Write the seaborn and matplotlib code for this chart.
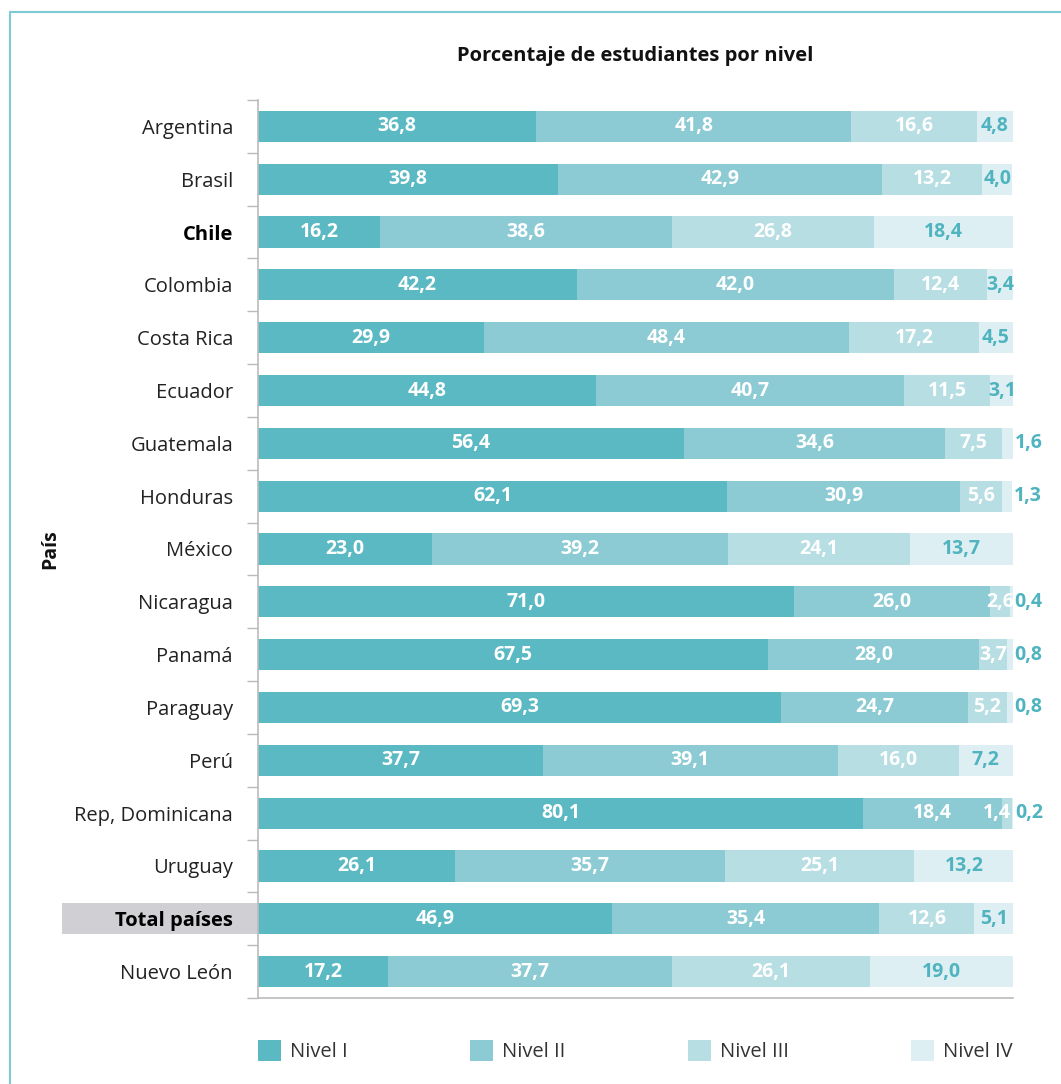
import matplotlib
matplotlib.use("Agg")
import matplotlib.pyplot as plt
from matplotlib.patches import Rectangle
from matplotlib.lines import Line2D
import seaborn as sns
import pandas as pd
import numpy as np

paises = ["Argentina", "Brasil", "Chile", "Colombia", "Costa Rica", "Ecuador",
          "Guatemala", "Honduras", "México", "Nicaragua", "Panamá", "Paraguay",
          "Perú", "Rep, Dominicana", "Uruguay", "Total países", "Nuevo León"]
nivel_1 = [36.8, 39.8, 16.2, 42.2, 29.9, 44.8, 56.4, 62.1, 23.0, 71.0, 67.5, 69.3, 37.7, 80.1, 26.1, 46.9, 17.2]
nivel_2 = [41.8, 42.9, 38.6, 42.0, 48.4, 40.7, 34.6, 30.9, 39.2, 26.0, 28.0, 24.7, 39.1, 18.4, 35.7, 35.4, 37.7]
nivel_3 = [16.6, 13.2, 26.8, 12.4, 17.2, 11.5, 7.5, 5.6, 24.1, 2.6, 3.7, 5.2, 16.0, 1.4, 25.1, 12.6, 26.1]
nivel_4 = [4.8, 4.0, 18.4, 3.4, 4.5, 3.1, 1.6, 1.3, 13.7, 0.4, 0.8, 0.8, 7.2, 0.2, 13.2, 5.1, 19.0]
niveles = ["Nivel I", "Nivel II", "Nivel III", "Nivel IV"]
colores = ["#5BB9C3", "#8CCBD4", "#B7DEE3", "#DDEFF2"]
destacados = ["Chile", "Total países"]

sns.set_theme(style="white")
plt.rcParams["font.family"] = ["Open Sans", "DejaVu Sans"]

W, H = 1061, 1084
fig = plt.figure(figsize=(W / 100, H / 100), dpi=100)
ax = fig.add_axes([258 / W, 1 - 998 / H, (1013 - 258) / W, (998 - 100) / H])

series = [nivel_1, nivel_2, nivel_3, nivel_4]
df = pd.DataFrame({"pais": paises})
acum = np.zeros(len(paises))
bordes = []
for nombre, valores in zip(niveles, series):
    inicio = acum.copy()
    acum = acum + np.array(valores)
    bordes.append((inicio, acum.copy()))
    df[nombre] = acum.copy()

# Stacked bars: draw cumulative totals from the widest down
bar_h = 0.59
for nombre, color in reversed(list(zip(niveles, colores))):
    sns.barplot(data=df, y="pais", x=nombre, color=color, orient="h",
                width=bar_h, ax=ax, label=nombre, saturation=1,
                linewidth=0, order=paises)

# Segment value labels
fs_val = 14
for k, (nombre, valores) in enumerate(zip(niveles, series)):
    inicio, fin = bordes[k]
    for i, v in enumerate(valores):
        txt = f"{v:.1f}".replace(".", ",")
        if k < 3:
            x = (inicio[i] + fin[i]) / 2
            if k == 2 and nivel_4[i] < 2 and v < 2:
                # very thin segment next to an outside label: keep text clear of it
                ax.text(fin[i] - 0.2, i, txt, ha="right", va="center",
                        color="white", fontsize=fs_val, fontweight="bold")
                continue
            ax.text(x, i, txt, ha="center", va="center",
                    color="white", fontsize=fs_val, fontweight="bold")
        elif v < 2:
            ax.text(fin[i] + 0.2, i, txt, ha="left", va="center",
                    color="#4FB4BF", fontsize=fs_val, fontweight="bold")
        else:
            ax.text((inicio[i] + fin[i]) / 2, i, txt, ha="center", va="center",
                    color="#4FB4BF", fontsize=fs_val, fontweight="bold")

ax.set_xlim(0, 100)
ax.set_ylim(len(paises) - 0.5, -0.5)
ax.set_xlabel("")
ax.set_ylabel("")
ax.set_xticks([])
ax.set_yticks(range(len(paises)))
ax.set_yticklabels(paises, fontsize=14.5, color="#222222")
for lbl in ax.get_yticklabels():
    if lbl.get_text() in destacados:
        lbl.set_fontweight("bold")
        lbl.set_color("black")
ax.tick_params(axis="y", which="major", length=0, pad=18)
ax.set_yticks(np.arange(-0.5, len(paises), 1), minor=True)
ax.tick_params(axis="y", which="minor", length=8, width=1, color="#BBBBBB", left=True)

for s in ["top", "right"]:
    ax.spines[s].set_visible(False)
for s in ["left", "bottom"]:
    ax.spines[s].set_color("#BBBBBB")
    ax.spines[s].set_linewidth(1.2)

# Grey band behind the total row label
idx_total = paises.index("Total países")
fondo = Rectangle(((62 - 258) / (1013 - 258), idx_total - bar_h / 2), (258 - 62) / (1013 - 258), bar_h,
                  transform=ax.get_yaxis_transform(), facecolor="#CFCFD4",
                  edgecolor="none", clip_on=False, zorder=0)
ax.add_patch(fondo)

ax.set_title("Porcentaje de estudiantes por nivel", fontsize=14.5,
             fontweight="bold", pad=28, color="#111111")
fig.text(50 / W, 1 - 549 / H, "País", rotation=90, ha="center", va="center",
         fontsize=14, fontweight="bold", color="#111111")

handles = [Rectangle((0, 0), 1, 1, facecolor=c, edgecolor="none") for c in colores]
ax.legend(handles, niveles, loc="upper left", bbox_to_anchor=(0, -0.067, 1, 0.02),
          mode="expand", ncol=4, frameon=False, fontsize=14.5, handlelength=1.15,
          handleheight=1.2, handletextpad=0.45, borderaxespad=0, borderpad=0,
          labelcolor="#333333")

# Outer frame lines
fig.add_artist(Line2D([10 / W, 10 / W], [0, 1 - 12 / H], color="#7DCCD4", lw=1.5))
fig.add_artist(Line2D([10 / W, 1], [1 - 12 / H, 1 - 12 / H], color="#7DCCD4", lw=1.5))

fig.savefig("out.png", dpi=100, facecolor="white")
